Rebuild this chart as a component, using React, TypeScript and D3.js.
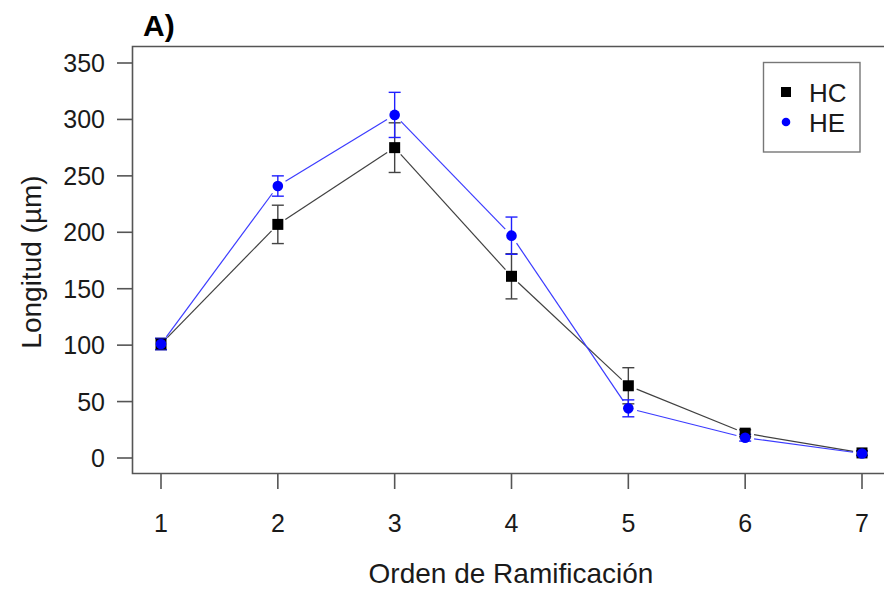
import React from "react";
import * as d3 from "d3";

const orders = [1, 2, 3, 4, 5, 6, 7];
const hcMean = [101, 207, 275, 161, 64, 22, 4.5];
const hcErr = [5, 17, 22, 20, 16, 3, 2];
const heMean = [101, 241, 304, 197, 44, 18, 4];
const heErr = [5, 9, 20, 16.5, 7.5, 3, 2];
const yTicks = [0, 50, 100, 150, 200, 250, 300, 350];
const seriesNames = ["HC", "HE"];

const W = 884;
const H = 590;
const FONT = "'Liberation Sans', Arial, sans-serif";

export default function App() {
  const x = d3.scaleLinear().domain([1, 7]).range([161, 862]);
  const y = d3.scaleLinear().domain([0, 350]).range([458, 63]);

  const boxLeft = 132.5;
  const boxTop = 46.5;
  const boxBottom = 473.5;
  const gap = 9;

  const segs = (vals: number[]) => {
    const out: { x1: number; y1: number; x2: number; y2: number }[] = [];
    for (let i = 0; i < vals.length - 1; i++) {
      const ax = x(orders[i]), ay = y(vals[i]);
      const bx = x(orders[i + 1]), by = y(vals[i + 1]);
      const dx = bx - ax, dy = by - ay;
      const len = Math.hypot(dx, dy);
      if (len <= 2 * gap) continue;
      const ux = dx / len, uy = dy / len;
      out.push({ x1: ax + ux * gap, y1: ay + uy * gap, x2: bx - ux * gap, y2: by - uy * gap });
    }
    return out;
  };

  const series = [
    { name: seriesNames[0], mean: hcMean, err: hcErr, line: "#404040", bar: "#444444", fill: "#000000", shape: "square" },
    { name: seriesNames[1], mean: heMean, err: heErr, line: "#3b3bff", bar: "#2020ff", fill: "#0000ff", shape: "circle" },
  ];

  return (
    <div style={{ position: "fixed", left: 0, top: 0 }}>
      <svg width={W} height={H} style={{ display: "block", background: "#fff" }} fontFamily={FONT}>
        {/* title */}
        <text x={143} y={36} fontSize={30} fontWeight="bold" fill="#000">A)</text>

        {/* box (right side beyond view) */}
        <path
          d={`M${W + 2},${boxTop}H${boxLeft}V${boxBottom}H${W + 2}`}
          fill="none"
          stroke="#555"
          strokeWidth={1.6}
        />

        {/* y axis ticks */}
        {yTicks.map((t) => (
          <g key={"y" + t}>
            <line x1={117} x2={boxLeft} y1={y(t)} y2={y(t)} stroke="#555" strokeWidth={1.6} />
            <text x={105} y={y(t)} dy="0.36em" textAnchor="end" fontSize={25} fill="#1a1a1a">{t}</text>
          </g>
        ))}

        {/* x axis ticks */}
        {orders.map((o) => (
          <g key={"x" + o}>
            <line x1={x(o)} x2={x(o)} y1={boxBottom} y2={489} stroke="#555" strokeWidth={1.6} />
            <text x={x(o)} y={532} textAnchor="middle" fontSize={25} fill="#1a1a1a">{o}</text>
          </g>
        ))}

        {/* axis titles */}
        <text x={511} y={583} textAnchor="middle" fontSize={28} fill="#1a1a1a">Orden de Ramificación</text>
        <text
          transform={`translate(41,262) rotate(-90)`}
          textAnchor="middle"
          fontSize={28}
          fill="#1a1a1a"
        >
          Longitud (µm)
        </text>

        {/* series */}
        {series.map((s) => (
          <g key={s.name}>
            {segs(s.mean).map((sg, i) => (
              <line key={i} {...sg} stroke={s.line} strokeWidth={1.2} />
            ))}
            {orders.map((o, i) => {
              const cx = x(o);
              const top = y(s.mean[i] + s.err[i]);
              const bot = y(s.mean[i] - s.err[i]);
              return (
                <g key={i}>
                  <line x1={cx} x2={cx} y1={top} y2={bot} stroke={s.bar} strokeWidth={1.4} />
                  <line x1={cx - 6} x2={cx + 6} y1={top} y2={top} stroke={s.bar} strokeWidth={1.4} />
                  <line x1={cx - 6} x2={cx + 6} y1={bot} y2={bot} stroke={s.bar} strokeWidth={1.4} />
                </g>
              );
            })}
          </g>
        ))}
        {series.map((s) => (
          <g key={s.name + "m"}>
            {orders.map((o, i) =>
              s.shape === "square" ? (
                <rect key={i} x={x(o) - 5.5} y={y(s.mean[i]) - 5.5} width={11} height={11} fill={s.fill} />
              ) : (
                <circle key={i} cx={x(o)} cy={y(s.mean[i])} r={5.3} fill={s.fill} />
              )
            )}
          </g>
        ))}

        {/* legend */}
        <rect x={763.5} y={62.5} width={96.5} height={89.5} fill="#fff" stroke="#777" strokeWidth={1.4} />
        <rect x={781} y={87} width={10} height={10} fill="#000" />
        <circle cx={786} cy={122} r={4.3} fill="#0000ff" />
        <text x={809} y={102} fontSize={26} fill="#1a1a1a">{seriesNames[0]}</text>
        <text x={809} y={132} fontSize={26} fill="#1a1a1a">{seriesNames[1]}</text>
      </svg>
    </div>
  );
}
